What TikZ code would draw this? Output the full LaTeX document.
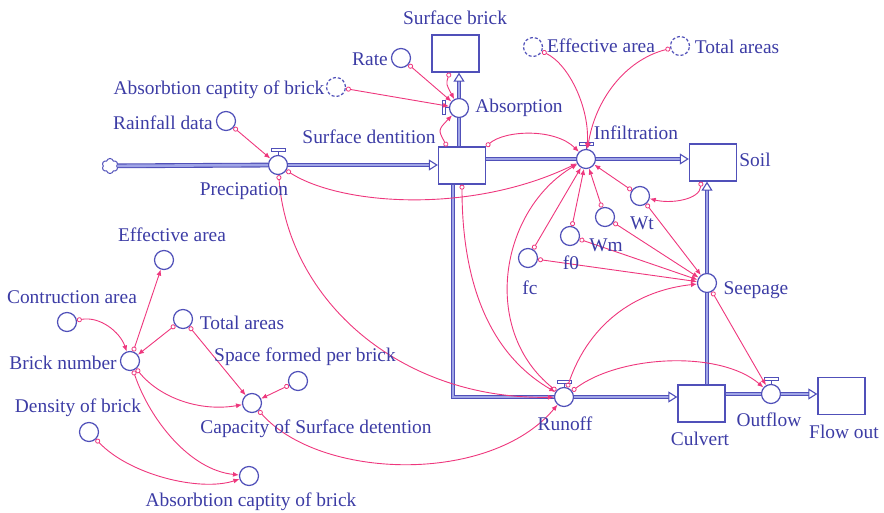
\documentclass[tikz,border=0pt]{standalone}
\usepackage{fontspec}
\setmainfont{Liberation Serif}
\usepackage{xcolor}
\usetikzlibrary{arrows.meta, positioning, shapes.symbols}
\definecolor{vensimblue}{RGB}{80,80,185}
\definecolor{vensimtext}{RGB}{60,60,165}
\definecolor{pipeblue}{RGB}{160,165,230}
\definecolor{linkpink}{RGB}{238,55,125}

\begin{document}
\begin{tikzpicture}[
    x=1pt, y=-1pt,
    stock/.style={rectangle, draw=vensimblue, line width=1.3pt, fill=white,
                  minimum width=47pt, minimum height=37pt},
    aux/.style={circle, draw=vensimblue, line width=1.2pt, fill=white,
                minimum size=19pt, inner sep=0pt},
    shadowvar/.style={aux, densely dashed},
    valve/.style={aux},
    txt/.style={text=vensimtext, font=\fontsize{19.4}{22}\selectfont, inner sep=0pt},
    pipe/.style={draw=vensimblue, line width=1.1pt, double=pipeblue, double distance=2.6pt},
    flow/.style={pipe, -{Triangle[open, length=9pt, width=11pt]}},
    link/.style={draw=linkpink, line width=0.9pt,
                 {Circle[open, length=5pt, width=5pt, line width=0.8pt]}-{Latex[length=6pt, width=5pt]}}
]
\useasboundingbox (0,0) rectangle (884,513);

% stocks
\node[stock] (sbrick) at (455.5,53.5) {};
\node[stock] (sdent) at (462,165.5) {};
\node[stock] (soil) at (713,162.5) {};
\node[stock] (culvert) at (701.5,403.5) {};
\node[stock] (flowout) at (841.5,396) {};
\node[cloud, cloud puffs=6, draw=vensimblue, line width=1pt, minimum width=16pt,
      minimum height=15pt, inner sep=0pt] (src) at (110,166) {};

% rates
\node[valve] (prec) at (278,165) {};
\node[valve] (absorp) at (459,108) {};
\node[valve] (infil) at (586,159) {};
\node[valve] (runoff) at (564,397) {};
\node[valve] (seep) at (707,283) {};
\node[valve] (outflow) at (771,394) {};

% auxiliaries
\node[aux] (rate) at (401,58) {};
\node[shadowvar] (abscapS) at (336,87) {};
\node[aux] (rain) at (226,121) {};
\node[shadowvar] (effS) at (533,47) {};
\node[shadowvar] (totS) at (680,46) {};
\node[aux] (wt) at (640,196) {};
\node[aux] (wm) at (605,217) {};
\node[aux] (fzero) at (570,236) {};
\node[aux] (fc) at (528,258) {};
\node[aux] (effA) at (164,260) {};
\node[aux] (conA) at (67,322) {};
\node[aux] (totA) at (183,319) {};
\node[aux] (bricknum) at (130,361) {};
\node[aux] (spacepb) at (298,381) {};
\node[aux] (capSD) at (252,403) {};
\node[aux] (density) at (89,432) {};
\node[aux] (abscap) at (249,476) {};

% pipes
\draw[pipe] (src) -- (prec);
\draw[flow] (prec) -- (sdent.west |- prec);
\draw[pipe] (sdent.east |- infil) -- (infil);
\draw[flow] (infil) -- (soil.west |- infil);
\draw[pipe] (sdent.north -| absorp) -- (absorp);
\draw[flow] (absorp) -- (sbrick.south -| absorp);
\draw[pipe] ([xshift=-9pt]sdent.south) |- (runoff);
\draw[flow] (runoff) -- (culvert.west |- runoff);
\draw[pipe] (culvert.north -| seep) -- (seep);
\draw[flow] (seep) -- (soil.south -| seep);
\draw[pipe] (culvert.east |- outflow) -- (outflow);
\draw[flow] (outflow) -- (flowout.west |- outflow);

% valve handles
\foreach \v in {prec, infil, runoff, outflow}
  \draw[vensimblue, line width=1pt] (\v.north) -- ([yshift=3pt]\v.north)
    ([shift={(-7pt,3pt)}]\v.north) rectangle ([shift={(7pt,6pt)}]\v.north);
\draw[vensimblue, line width=1pt] (absorp.west) -- ([xshift=-3pt]absorp.west)
  ([shift={(-3pt,-7pt)}]absorp.west) rectangle ([shift={(-6pt,7pt)}]absorp.west);

% links
\draw[link] (rate) -- (absorp);
\draw[link] (abscapS) -- (absorp);
\draw[link] ([xshift=-6pt]sbrick.south) .. controls (446,84) .. (absorp);
\draw[link] ([xshift=-15pt]sdent.north) .. controls (438,130) .. (absorp);
\draw[link] (rain) -- (prec);
\draw[link] (prec) .. controls (340,205) and (470,215) .. (infil);
\draw[link] (prec) .. controls (288,300) and (400,400) .. (runoff);
\draw[link] (sdent.north east) .. controls (505,130) and (555,128) .. (infil);
\draw[link] (sdent.south) .. controls (462,300) and (500,360) .. (runoff);
\draw[link] (runoff) .. controls (480,330) and (500,210) .. (infil);
\draw[link] (effS) .. controls (570,65) and (590,110) .. (infil);
\draw[link] (totS) .. controls (625,60) and (595,100) .. (infil);
\draw[link] ([xshift=-12pt]soil.south) .. controls (700,200) and (670,204) .. (wt);
\foreach \a in {wt, wm, fzero, fc} {
  \draw[link] (\a) -- (infil);
  \draw[link] (\a) -- (seep);
}
\draw[link] (runoff) .. controls (590,320) and (640,290) .. (seep);
\draw[link] (seep) -- (outflow);
\draw[link] (runoff) .. controls (620,355) and (720,350) .. (outflow);
\draw[link] (capSD) .. controls (320,480) and (490,485) .. (runoff);
\draw[link] (conA) .. controls (100,316) and (120,332) .. (bricknum);
\draw[link] (bricknum) -- (effA);
\draw[link] (totA) -- (bricknum);
\draw[link] (totA) -- (capSD);
\draw[link] (spacepb) -- (capSD);
\draw[link] (bricknum) .. controls (160,398) and (200,412) .. (capSD);
\draw[link] (bricknum) .. controls (150,420) and (190,470) .. (abscap);
\draw[link] (density) .. controls (130,475) and (200,492) .. (abscap);

% labels
\node[txt] (sbrickL) at (455,18) {Surface brick};
\node[txt] (sdentL) at (369,137) {Surface dentition};
\node[txt] (soilL) at (755,160) {Soil};
\node[txt] (culvertL) at (700,439) {Culvert};
\node[txt] (flowoutL) at (844,432) {Flow out};
\node[txt] (precL) at (244,191) {Precipation};
\node[txt] (absorpL) at (519,108) {Absorption};
\node[txt] (infilL) at (636,133) {Infiltration};
\node[txt] (runoffL) at (565,424) {Runoff};
\node[txt] (seepL) at (756,290) {Seepage};
\node[txt] (outflowL) at (769,420) {Outflow};
\node[txt] (rateL) at (370,59) {Rate};
\node[txt] (abscapSL) at (219,90) {Absorbtion captity of brick};
\node[txt] (rainL) at (163,123) {Rainfall data};
\node[txt] (effSL) at (601,46) {Effective area};
\node[txt] (totSL) at (737,47) {Total areas};
\node[txt] (wtL) at (642,223) {Wt};
\node[txt] (wmL) at (606,245) {Wm};
\node[txt] (fzeroL) at (571,263) {f0};
\node[txt] (fcL) at (530,288) {fc};
\node[txt] (effAL) at (172,235) {Effective area};
\node[txt] (conAL) at (72,297) {Contruction area};
\node[txt] (totAL) at (242,323) {Total areas};
\node[txt] (bricknumL) at (63,363) {Brick number};
\node[txt] (spacepbL) at (305,357) {Space formed per brick};
\node[txt] (capSDL) at (316,429) {Capacity of Surface detention};
\node[txt] (densityL) at (78,408) {Density of brick};
\node[txt] (abscapL) at (251,502) {Absorbtion captity of brick};
\end{tikzpicture}
\end{document}
